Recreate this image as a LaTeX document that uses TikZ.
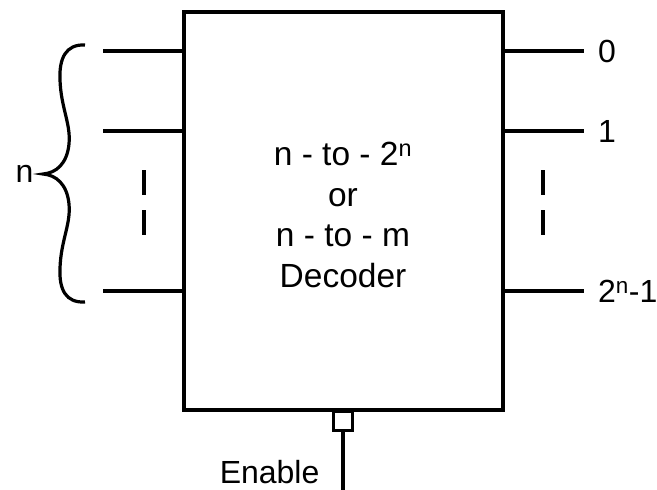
\documentclass[tikz,border=0pt]{standalone}
\usepackage{fontspec}
\setmainfont{Liberation Sans}
\usetikzlibrary{positioning}

\begin{document}
\begin{tikzpicture}[x=1pt,y=-1pt,line width=3.2pt,
  lbl/.style={font=\fontsize{32}{40.5}\selectfont,inner sep=0pt},
  blk/.style={draw,inner sep=0pt,minimum width=319pt,minimum height=398pt}]
  \useasboundingbox (0,0) rectangle (657,490);
  % dekoder
  \node[blk] (dec) at (343.5,211) {};
  \node[lbl,font=\fontsize{33.5}{40.5}\selectfont,align=center,anchor=base] (txt) at (343,287)
    {n - to - 2\textsuperscript{n}\\or\\n - to - m\\Decoder};
  % vstupy
  \foreach \y/\i in {51/a,131/b,291/c} {
    \coordinate (in\i) at (103,\y);
    \draw (in\i) -- (in\i -| dec.west);
  }
  % vystupy
  \foreach \y/\i/\t in {51/a/0,131/b/1,291/c/2\textsuperscript{n}-1} {
    \coordinate (out\i) at (584,\y);
    \draw (out\i -| dec.east) -- (out\i);
    \node[lbl,right=12.5pt of out\i] (lo\i) {\t};
  }
  % carky mezi vodici
  \foreach \x in {144,543}
    \draw (\x,170) -- (\x,195) (\x,210) -- (\x,235);
  % slozena zavorka
  \draw (85,45) .. controls (66,44) and (59,58) .. (60,80)
    .. controls (61,108) and (71,124) .. (69,144)
    .. controls (67,164) and (56,173) .. (43,174)
    .. controls (56,175) and (67,184) .. (69,204)
    .. controls (71,224) and (61,240) .. (60,268)
    .. controls (59,290) and (66,303) .. (85,302);
  \node[lbl,anchor=east] (n) at (35,174) {n};
  % povoleni
  \node[draw,inner sep=0pt,minimum size=19pt,anchor=north] (en) at (343,410) {};
  \coordinate (enb) at (343,490);
  \draw (en.south) -- (enb);
  \node[lbl,anchor=base east] (enl) at (321,483) {Enable};
\end{tikzpicture}
\end{document}
